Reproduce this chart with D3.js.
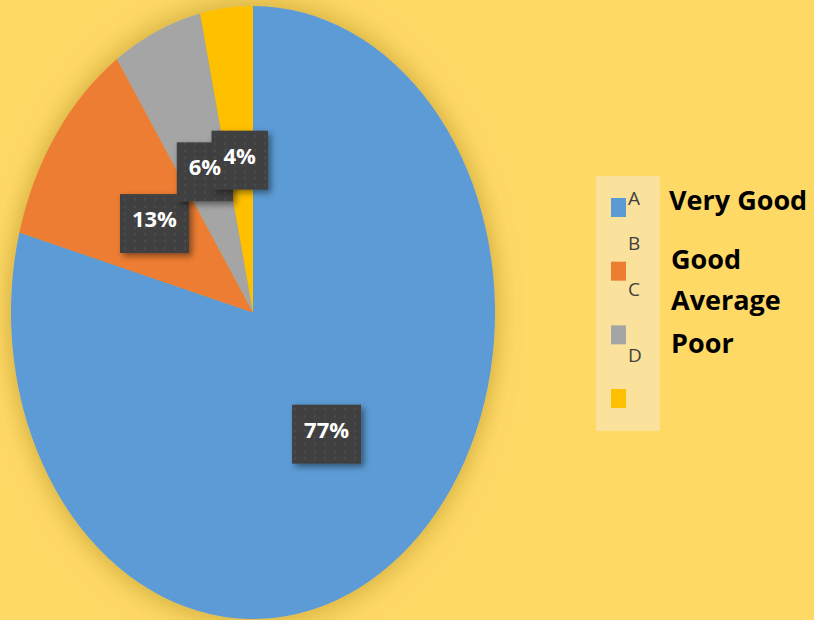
<!DOCTYPE html>
<html>
<head>
<meta charset="utf-8">
<script src="https://cdn.jsdelivr.net/npm/d3@7"></script>
<style>
  html, body { margin: 0; padding: 0; background: #FFD966; }
  svg { display: block; }
</style>
</head>
<body>
<svg id="chart" width="814" height="620"></svg>
<script>
// ---- data ----
const categories = ["Very Good", "Good", "Average", "Poor"];
const values = [79.2, 11.3, 6.0, 3.5];          // slice sizes as drawn
const valueLabels = ["77%", "13%", "6%", "4%"];  // data label texts
const legendLetters = ["A", "B", "C", "D"];
const colors = ["#5B9BD5", "#ED7D31", "#A5A5A5", "#FFC000"];

// ---- layout ----
const W = 814, H = 620;
const cx = 253, cy = 312.5, rx = 242, ry = 306.5;

const svg = d3.select("#chart");
const defs = svg.append("defs");

const pieShadow = defs.append("filter").attr("id", "pieShadow")
  .attr("x", "-30%").attr("y", "-30%").attr("width", "160%").attr("height", "160%");
pieShadow.append("feDropShadow").attr("dx", 0).attr("dy", 0)
  .attr("stdDeviation", 13).attr("flood-color", "#8a6a10").attr("flood-opacity", 0.5);

const boxShadow = defs.append("filter").attr("id", "boxShadow")
  .attr("x", "-30%").attr("y", "-30%").attr("width", "160%").attr("height", "160%");
boxShadow.append("feDropShadow").attr("dx", 3).attr("dy", 3)
  .attr("stdDeviation", 3).attr("flood-color", "#000").attr("flood-opacity", 0.45);

const pat = defs.append("pattern").attr("id", "dots")
  .attr("patternUnits", "userSpaceOnUse").attr("width", 10).attr("height", 7);
pat.append("rect").attr("width", 10).attr("height", 7).attr("fill", "#404040");
pat.append("rect").attr("x", 4).attr("y", 2).attr("width", 2).attr("height", 3)
  .attr("fill", "#4a4a4a");

const data = categories.map((c, i) => ({ cat: c, value: values[i], label: valueLabels[i], color: colors[i] }));

const pie = d3.pie().sort(null).value(d => d.value);
const arcs = pie(data);
const arc = d3.arc().innerRadius(0).outerRadius(rx);

const sy = ry / rx;
const pieG = svg.append("g")
  .attr("transform", `translate(${cx},${cy}) scale(1,${sy})`)
  .attr("filter", "url(#pieShadow)");

pieG.selectAll("path").data(arcs).enter().append("path")
  .attr("d", arc)
  .attr("fill", d => d.data.color);

// ---- data labels: boxes first, then all texts on top ----
const boxH = 59, padX = 12;
const boxLayer = svg.append("g");
const textLayer = svg.append("g");
arcs.forEach(a => {
  const [px, py] = arc.centroid(a);
  const x = cx + px, y = cy + py * sy;
  const t = textLayer.append("text")
    .attr("x", x).attr("y", y + 3.5)
    .attr("text-anchor", "middle")
    .attr("font-family", "'Open Sans', sans-serif")
    .attr("font-weight", "bold")
    .attr("font-size", 22)
    .attr("fill", "#ffffff")
    .text(a.data.label);
  const tw = t.node().getComputedTextLength();
  const bw = tw + 2 * padX;
  boxLayer.append("rect")
    .attr("x", x - bw / 2).attr("y", y - boxH / 2)
    .attr("width", bw).attr("height", boxH)
    .attr("fill", "url(#dots)").attr("filter", "url(#boxShadow)");
});

// ---- legend ----
const legG = svg.append("g");
legG.append("rect").attr("x", 596).attr("y", 176).attr("width", 64).attr("height", 255)
  .attr("fill", "#FBE29C");

const sqY = d3.scaleLinear().domain([0, 3]).range([198, 389]);
legG.selectAll("rect.sw").data(data).enter().append("rect")
  .attr("class", "sw")
  .attr("x", 611).attr("y", (d, i) => sqY(i))
  .attr("width", 15).attr("height", 19)
  .attr("fill", d => d.color);

const letterBaselines = [205, 250, 296, 362];
legG.selectAll("text.letter").data(legendLetters).enter().append("text")
  .attr("class", "letter")
  .attr("x", 628).attr("y", (d, i) => letterBaselines[i])
  .attr("font-family", "'Open Sans', sans-serif")
  .attr("font-size", 19)
  .attr("fill", "#404040")
  .text(d => d);

const labelBaselines = [210, 269, 310, 353];
legG.selectAll("text.cat").data(categories).enter().append("text")
  .attr("class", "cat")
  .attr("x", (d, i) => i === 0 ? 669 : 671).attr("y", (d, i) => labelBaselines[i])
  .attr("font-family", "'Open Sans', sans-serif")
  .attr("font-weight", "bold")
  .attr("font-size", 27)
  .attr("fill", "#000000")
  .text(d => d);
</script>
</body>
</html>
